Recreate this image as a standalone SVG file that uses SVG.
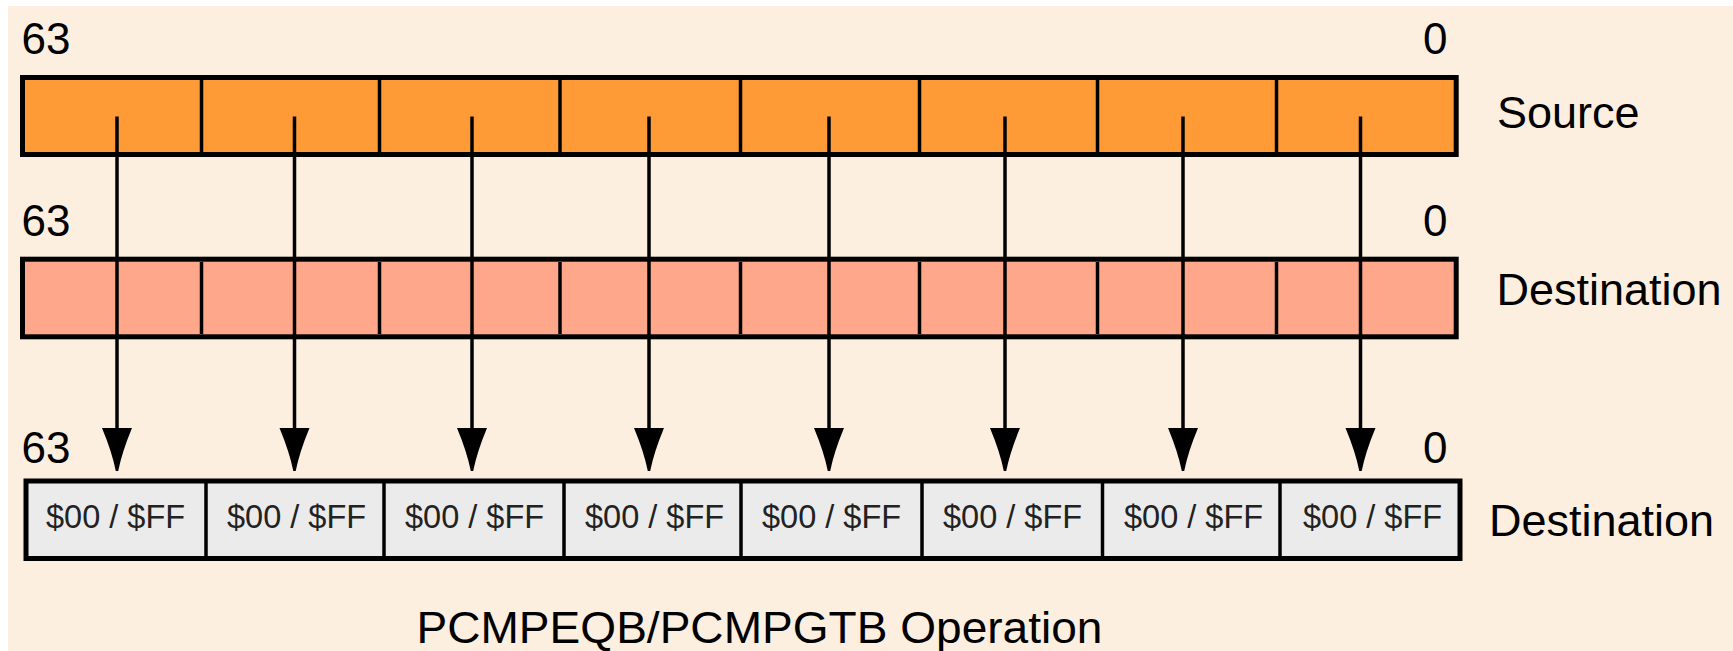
<svg xmlns="http://www.w3.org/2000/svg" width="1733" height="651" viewBox="0 0 1733 651">
<style>
text{font-family:"Liberation Sans",Arial,sans-serif;fill:#000}
.bit{font-size:44px}
.lbl{font-size:45px}
.cell{font-size:32.5px;fill:#222}
.box{stroke:#000;stroke-width:5}
.div{stroke:#000;stroke-width:3.5}
.conn{stroke:#000;stroke-width:3.5;fill:none}
.head{fill:#000}
</style>
<defs>
<path id="ah" d="M-15,428 L15,428 Q5,452 1.2,471 L-1.2,471 Q-5,452 -15,428 Z"/>
</defs>
<rect x="8" y="6" width="1725" height="645" fill="#FDEFE0"/>

<g id="source">
<rect class="box" x="22.5" y="77.5" width="1433.7" height="77" fill="#FF9B37"/>
<g class="div">
<line x1="201.5" y1="80" x2="201.5" y2="152"/>
<line x1="379.5" y1="80" x2="379.5" y2="152"/>
<line x1="560" y1="80" x2="560" y2="152"/>
<line x1="740.5" y1="80" x2="740.5" y2="152"/>
<line x1="919.5" y1="80" x2="919.5" y2="152"/>
<line x1="1097.5" y1="80" x2="1097.5" y2="152"/>
<line x1="1276.5" y1="80" x2="1276.5" y2="152"/>
</g>
<text class="bit" x="21.5" y="54">63</text>
<text class="bit" x="1447.5" y="54" text-anchor="end">0</text>
<text class="lbl" x="1497" y="128">Source</text>
</g>

<g id="dest1">
<rect class="box" x="22.5" y="259.2" width="1433.7" height="77.6" fill="#FFA78A"/>
<g class="div">
<line x1="201.5" y1="262" x2="201.5" y2="334"/>
<line x1="379.5" y1="262" x2="379.5" y2="334"/>
<line x1="560" y1="262" x2="560" y2="334"/>
<line x1="740.5" y1="262" x2="740.5" y2="334"/>
<line x1="919.5" y1="262" x2="919.5" y2="334"/>
<line x1="1097.5" y1="262" x2="1097.5" y2="334"/>
<line x1="1276.5" y1="262" x2="1276.5" y2="334"/>
</g>
<text class="bit" x="21.5" y="236">63</text>
<text class="bit" x="1447.5" y="236" text-anchor="end">0</text>
<text class="lbl" x="1496.5" y="305">Destination</text>
</g>

<g id="result">
<rect class="box" x="26" y="481" width="1434" height="77.5" fill="#EBEBEB" stroke-width="5.5"/>
<g class="div">
<line x1="206" y1="483" x2="206" y2="556"/>
<line x1="384" y1="483" x2="384" y2="556"/>
<line x1="564" y1="483" x2="564" y2="556"/>
<line x1="741" y1="483" x2="741" y2="556"/>
<line x1="922" y1="483" x2="922" y2="556"/>
<line x1="1102.5" y1="483" x2="1102.5" y2="556"/>
<line x1="1280" y1="483" x2="1280" y2="556"/>
</g>
<text class="cell" x="46" y="528">$00 / $FF</text>
<text class="cell" x="227" y="528">$00 / $FF</text>
<text class="cell" x="405" y="528">$00 / $FF</text>
<text class="cell" x="585" y="528">$00 / $FF</text>
<text class="cell" x="762" y="528">$00 / $FF</text>
<text class="cell" x="943" y="528">$00 / $FF</text>
<text class="cell" x="1124" y="528">$00 / $FF</text>
<text class="cell" x="1303" y="528">$00 / $FF</text>
<text class="bit" x="21.5" y="463">63</text>
<text class="bit" x="1447.5" y="463" text-anchor="end">0</text>
<text class="lbl" x="1489" y="536">Destination</text>
</g>

<g id="connectors">
<line class="conn" x1="117" y1="116.5" x2="117" y2="432"/>
<line class="conn" x1="294.5" y1="116.5" x2="294.5" y2="432"/>
<line class="conn" x1="472" y1="116.5" x2="472" y2="432"/>
<line class="conn" x1="649" y1="116.5" x2="649" y2="432"/>
<line class="conn" x1="829" y1="116.5" x2="829" y2="432"/>
<line class="conn" x1="1005" y1="116.5" x2="1005" y2="432"/>
<line class="conn" x1="1183" y1="116.5" x2="1183" y2="432"/>
<line class="conn" x1="1360.5" y1="116.5" x2="1360.5" y2="432"/>
<use href="#ah" class="head" x="117"/>
<use href="#ah" class="head" x="294.5"/>
<use href="#ah" class="head" x="472"/>
<use href="#ah" class="head" x="649"/>
<use href="#ah" class="head" x="829"/>
<use href="#ah" class="head" x="1005"/>
<use href="#ah" class="head" x="1183"/>
<use href="#ah" class="head" x="1360.5"/>
</g>

<g id="title">
<text class="lbl" x="416.5" y="643" textLength="686" lengthAdjust="spacingAndGlyphs">PCMPEQB/PCMPGTB Operation</text>
</g>
</svg>
